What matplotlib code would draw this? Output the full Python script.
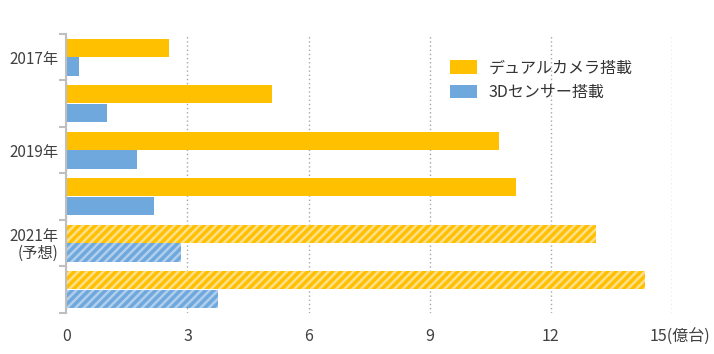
import numpy as np
import matplotlib.pyplot as plt
from matplotlib.patches import Patch

plt.rcParams['font.family'] = ['Noto Sans CJK JP', 'DejaVu Sans']
plt.rcParams['hatch.linewidth'] = 1.8

years = ['2017年', '2018年', '2019年', '2020年', '2021年\n(予想)', '2022年']
dual = [2.54, 5.09, 10.71, 11.13, 13.12, 14.33]
sensor = [0.31, 1.0, 1.75, 2.16, 2.84, 3.75]
forecast = [False, False, False, False, True, True]
xticks = [0, 3, 6, 9, 12, 15]

orange = '#FFC000'
blue = '#6FA8DC'

fig = plt.figure(figsize=(7.14, 3.54), dpi=100)
ax = fig.add_axes([0.093, 0.116, 0.848, 0.788])

y = np.arange(len(years))
h = 0.39
for k in range(len(years)):
    if forecast[k]:
        ax.barh(y[k] - 0.2, dual[k], height=h, color=orange, edgecolor='#FFE08A',
                hatch='////', linewidth=0)
        ax.barh(y[k] + 0.2, sensor[k], height=h, color=blue, edgecolor='#B0CFEC',
                hatch='////', linewidth=0)
    else:
        ax.barh(y[k] - 0.2, dual[k], height=h, color=orange, linewidth=0)
        ax.barh(y[k] + 0.2, sensor[k], height=h, color=blue, linewidth=0)

# legend
handles = [Patch(facecolor=orange, label='デュアルカメラ搭載'),
           Patch(facecolor=blue, label='3Dセンサー搭載')]
leg = ax.legend(handles=handles, loc='upper left', bbox_to_anchor=(0.61, 0.96),
                frameon=False, fontsize=11.5, handlelength=1.7, handleheight=0.9,
                labelspacing=0.45, handletextpad=0.7)
for t in leg.get_texts():
    t.set_color('#333333')

ax.set_xlim(0, 15)
ax.set_ylim(5.5, -0.5)

ax.set_xticks(xticks)
ax.set_xticklabels([str(v) for v in xticks[:-1]] + [''])
ax.annotate('15(億台)', xy=(15, 0), xycoords=('data', 'axes fraction'),
            xytext=(-16, -17.5), textcoords='offset points', ha='left', va='center',
            fontsize=11.5, color='#404040')
ax.tick_params(axis='x', length=0, pad=11, labelsize=11.5, labelcolor='#404040')

ax.set_yticks(np.arange(-0.5, 6.0, 1.0))
ax.set_yticklabels([])
ax.set_yticks([0, 2, 4], minor=True)
ax.set_yticklabels([years[0], years[2], years[4]], minor=True)
ax.tick_params(axis='y', which='major', length=5, width=1.5, color='#BFBFBF', direction='out')
ax.tick_params(axis='y', which='minor', length=0, pad=6, labelsize=11, labelcolor='#404040')
for lab in ax.get_yticklabels(minor=True):
    lab.set_linespacing(0.95)

ax.grid(axis='x', color='#A6A6A6', linestyle=(0, (1, 2)), linewidth=1)
ax.set_axisbelow(True)
for s in ['top', 'right', 'bottom']:
    ax.spines[s].set_visible(False)
ax.spines['left'].set_color('#BFBFBF')
ax.spines['left'].set_linewidth(1.5)
ax.spines['left'].set_zorder(5)

fig.savefig('out.png', dpi=100)
